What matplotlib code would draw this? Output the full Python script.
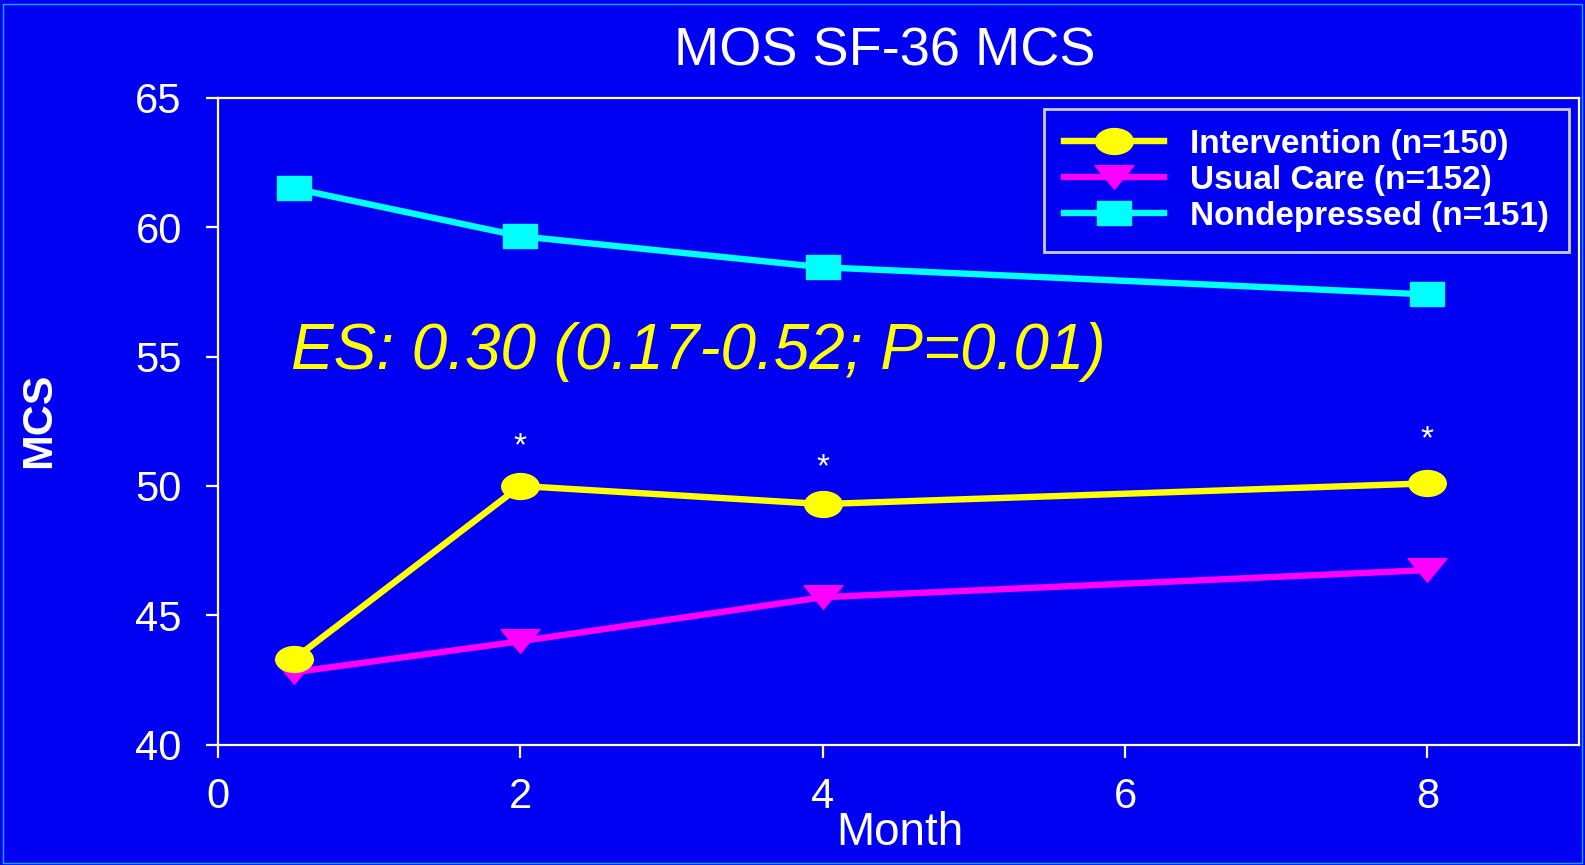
import matplotlib
matplotlib.use("Agg")
from matplotlib import pyplot as plt
from matplotlib.patches import Rectangle
from matplotlib.path import Path
from matplotlib.transforms import Affine2D

# values
months = [0.5, 2, 4, 8]
intervention = [43.3, 50.0, 49.3, 50.1]
usual_care = [42.8, 44.0, 45.7, 46.75]
nondepressed = [61.5, 59.65, 58.45, 57.4]
star_months = [2, 4, 8]
star_heights = [51.5, 50.7, 51.8]
series_labels = ["Intervention (n=150)", "Usual Care (n=152)", "Nondepressed (n=151)"]
y_ticks = [40, 45, 50, 55, 60, 65]
x_ticks = [0, 2, 4, 6, 8]

bg = "#0000F2"
plt.rcParams["font.family"] = ["Liberation Sans", "DejaVu Sans"]

# the slide is stretched sideways, so the markers are wider than tall
ellipse = Affine2D().scale(1.45, 1.0).transform_path(Path.unit_circle())
tri_down = Affine2D().scale(1.65, 1.0).transform_path(
    Path([(0, -1), (-1, 1), (1, 1), (0, -1)], closed=True))
wide_square = Affine2D().scale(1.4, 1.0).transform_path(Path.unit_rectangle()
                                                        .transformed(Affine2D().translate(-0.5, -0.5)))

fig = plt.figure(figsize=(15.85, 8.65), dpi=100, facecolor=bg)
ax = fig.add_axes([0.1375, 0.139, 0.8585, 0.748])
ax.set_facecolor(bg)

# the three series
ax.plot(months, nondepressed, color="#00FFFF", lw=4.6, marker=wide_square, ms=24,
        label=series_labels[2], zorder=3)
ax.plot(months, usual_care, color="#FF00FF", lw=4.6, marker=tri_down, ms=28,
        label=series_labels[1], zorder=3)
ax.plot(months, intervention, color="#FFFF00", lw=4.6, marker=ellipse, ms=27,
        label=series_labels[0], zorder=4)

for m, h in zip(star_months, star_heights):
    ax.text(m, h, "*", color="white", fontsize=24, ha="center", va="center")

ax.text(0.48, 54.5, "ES: 0.30 (0.17-0.52; P=0.01)", color="#FFFF00",
        fontsize=46, style="italic", ha="left", va="baseline")

ax.set_xlim(0, 9)
ax.set_ylim(40, 65)
ax.set_xticks(x_ticks)
ax.set_yticks(y_ticks)
for sp in ax.spines.values():
    sp.set_color("white")
    sp.set_linewidth(1.6)
ax.tick_params(colors="white", labelsize=30, length=9, width=1.6)
ax.tick_params(axis="y", pad=17)
ax.tick_params(axis="x", pad=14)

# legend order: intervention, usual care, nondepressed
handles, labels = ax.get_legend_handles_labels()
order = [2, 1, 0]
leg = ax.legend([handles[i] for i in order], [labels[i] for i in order],
                loc="upper right", bbox_to_anchor=(0.993, 0.983), borderaxespad=0,
                frameon=True, fancybox=False, facecolor=bg, edgecolor="white",
                handlelength=3.0, handletextpad=0.8, labelspacing=0.15,
                borderpad=0.6, prop={"size": 24, "weight": "bold"})
leg.get_frame().set_linewidth(2)
for t in leg.get_texts():
    t.set_color("white")

fig.text(0.558, 1 - 65 / 865, "MOS SF-36 MCS", color="white", fontsize=39,
         ha="center", va="baseline")
fig.text(900 / 1585, 1 - 845 / 865, "Month", color="white", fontsize=33,
         ha="center", va="baseline")
fig.text(39 / 1585, 1 - 420 / 865, "MCS", color="white", fontsize=31,
         fontweight="bold", rotation=90, ha="center", va="center")

# thin cyan frame round the slide
fig.patches.append(Rectangle((0.002, 0.002), 0.996, 0.993, transform=fig.transFigure,
                             fill=False, edgecolor="#00B0FF", lw=1))

fig.savefig("out.png", dpi=100, facecolor=bg)
